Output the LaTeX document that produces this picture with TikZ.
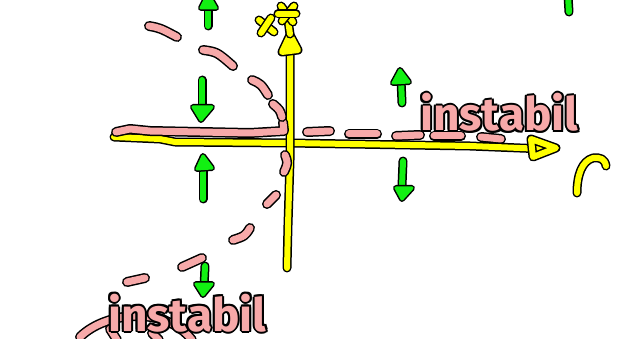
\documentclass[tikz,border=0pt]{standalone}
\usepackage{fontspec}
\setmainfont{Fira Sans}
\usepackage{xcolor}
\definecolor{axisyellow}{HTML}{FFFF00}
\definecolor{flowgreen}{HTML}{12F012}
\definecolor{branchpink}{HTML}{F7A9A9}

\begin{document}
\begin{tikzpicture}[x=1pt,y=-1pt,line cap=round,line join=round,
  axis/.style={axisyellow,line width=6},
  branch/.style={branchpink,line width=7},
  flow/.style={flowgreen,line width=6},
  flowhead/.style={flowgreen,fill=flowgreen,line width=3},
  lettering/.style={font=\bfseries\fontsize{46}{46}\selectfont,anchor=base west,inner sep=0}]
\newcommand{\ink}[3]{\draw[black,line width=#2] #3; \draw[#1] #3;}
\newcommand{\outlined}[3]{\foreach \dx/\dy [count=\k] in {2/0,-2/0,0/2,0/-2,1.4/1.4,-1.4/1.4,1.4/-1.4,-1.4/-1.4} \node[lettering,text=black,xshift=\dx pt,yshift=\dy pt] (#1s\k) at #2 {#3}; \node[lettering,text=branchpink] (#1) at #2 {#3};}
\useasboundingbox (0,0) rectangle (621,339);
% axes
\ink{axis}{9}{(114,137)--(160,139)--(175,142)--(290,143)--(470,146)--(545,149)}
\ink{axis}{9}{(531,139)--(556,148)--(533,157)--cycle}
\ink{axis}{9}{(287,268)--(288,225)--(290,160)--(290,50)}
\ink{axis,fill=axisyellow}{9}{(282,52)--(290,35)--(298,50)--cycle}
\ink{axis}{9}{(288,20)--(290,34)}
\ink{axis}{9}{(281,6)--(293,22)}
\ink{axis}{9}{(294,6)--(282,21)}
\ink{axis}{9}{(278,14)--(296,14)}
\ink{axis}{9}{(259,20)--(274,32)}
\ink{axis}{9}{(271,18)--(261,33)}
\ink{axis}{9}{(577,193) .. controls (577,175) and (582,161) .. (593,158) .. controls (600,157) and (605,159) .. (606,166)}
% branches
\ink{branch}{10}{(283,122)--(284,131)--(250,133)--(150,131)--(130,129)--(116,132)}
\ink{branch}{10}{(149,26) .. controls (160,28) .. (177,37)}
\ink{branch}{10}{(203,50) .. controls (217,52) .. (233,66)}
\ink{branch}{10}{(252,80) .. controls (261,84) .. (268,95)}
\ink{branch}{10}{(273,104) .. controls (280,110) .. (282,117)}
\ink{branch}{10}{(285,155) .. controls (288,163) .. (284,172)}
\ink{branch}{10}{(276,195)--(267,204)}
\ink{branch}{10}{(250,228) .. controls (245,236) .. (233,240)}
\ink{branch}{10}{(202,258)--(182,267)}
\ink{branch}{10}{(145,278)--(127,282)}
\ink{branch}{10}{(307,132)--(330,131)}
\ink{branch}{10}{(349,134)--(377,134)}
\ink{branch}{10}{(396,136)--(420,135)}
\ink{branch}{10}{(434,136)--(461,136)}
\ink{branch}{10}{(481,137)--(501,139)}
\ink{branch}{10}{(80,337) .. controls (105,312) and (165,305) .. (192,340)}
\ink{branch}{10}{(110,329)--(117,340)}
\ink{branch}{10}{(152,333)--(159,340)}
% flow arrows
\ink{flow}{9}{(208,-4)--(208,26)}
\ink{flowhead}{6}{(201,8)--(216,8)--(208,-6)--cycle}
\ink{flow}{9}{(202,80)--(202,108)}
\ink{flowhead}{6}{(193,107)--(212,107)--(201,120)--cycle}
\ink{flow}{9}{(203,168)--(203,199)}
\ink{flowhead}{6}{(197,169)--(212,168)--(203,156)--cycle}
\ink{flow}{9}{(205,266)--(204,288)}
\ink{flowhead}{6}{(196,284)--(212,284)--(203,295)--cycle}
\ink{flow}{9}{(401,80)--(402,103)}
\ink{flowhead}{6}{(393,83)--(409,82)--(400,70)--cycle}
\ink{flow}{9}{(403,161)--(402,186)}
\ink{flowhead}{6}{(396,188)--(412,188)--(402,199)--cycle}
\ink{flow}{9}{(568,-4)--(569,12)}
% labels
\outlined{unstabR}{(420,131)}{instabil}
\outlined{unstabL}{(108,331)}{instabil}
\end{tikzpicture}
\end{document}
